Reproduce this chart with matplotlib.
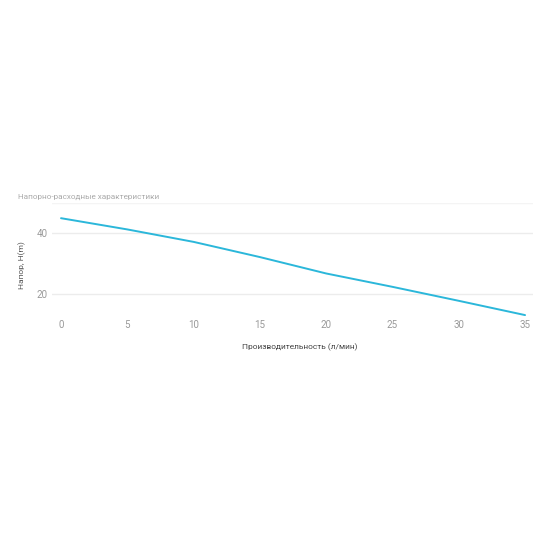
import matplotlib
matplotlib.use("Agg")
import matplotlib.pyplot as plt

flow = [0, 5, 10, 15, 20, 25, 30, 35]
head = [45.0, 41.3, 37.2, 32.2, 26.8, 22.4, 17.8, 13.1]
xticks = [0, 5, 10, 15, 20, 25, 30, 35]
yticks = [20, 40]

plt.rcParams['font.family'] = ['Roboto', 'DejaVu Sans']

W, H = 550, 550
fig = plt.figure(figsize=(5.5, 5.5), dpi=100)
left, right, top, bottom = 52, 533, 203, 316
ax = fig.add_axes([left / W, 1 - bottom / H, (right - left) / W, (bottom - top) / H])

ax.plot(flow, head, color='#2bb7da', lw=1.4, solid_capstyle='round')
ax.set_xlim(-0.68, 35.6)
ax.set_ylim(12.8, 50)
ax.set_yticks(yticks)
ax.set_xticks(xticks)
for y in yticks + [50]:
    ax.axhline(y, color='#ececec' if y != 50 else '#f4f4f4', lw=1, zorder=0)
for s in ax.spines.values():
    s.set_visible(False)
ax.tick_params(length=0, labelsize=7, colors='#999999')
ax.tick_params(axis='x', pad=3)
ax.tick_params(axis='y', pad=3)

fig.text(22 / W, 1 - 265 / H, 'Напор, H(m)', fontsize=6, color='#555555',
         rotation=90, va='center', ha='center')
fig.text(300 / W, 1 - 347 / H, 'Производительность (л/мин)', fontsize=6,
         color='#444444', va='center', ha='center')
fig.text(18 / W, 1 - 197 / H, 'Напорно-расходные характеристики', fontsize=5.9,
         color='#aaaaaa', va='center', ha='left')

fig.savefig('out.png', dpi=100, facecolor='white')
